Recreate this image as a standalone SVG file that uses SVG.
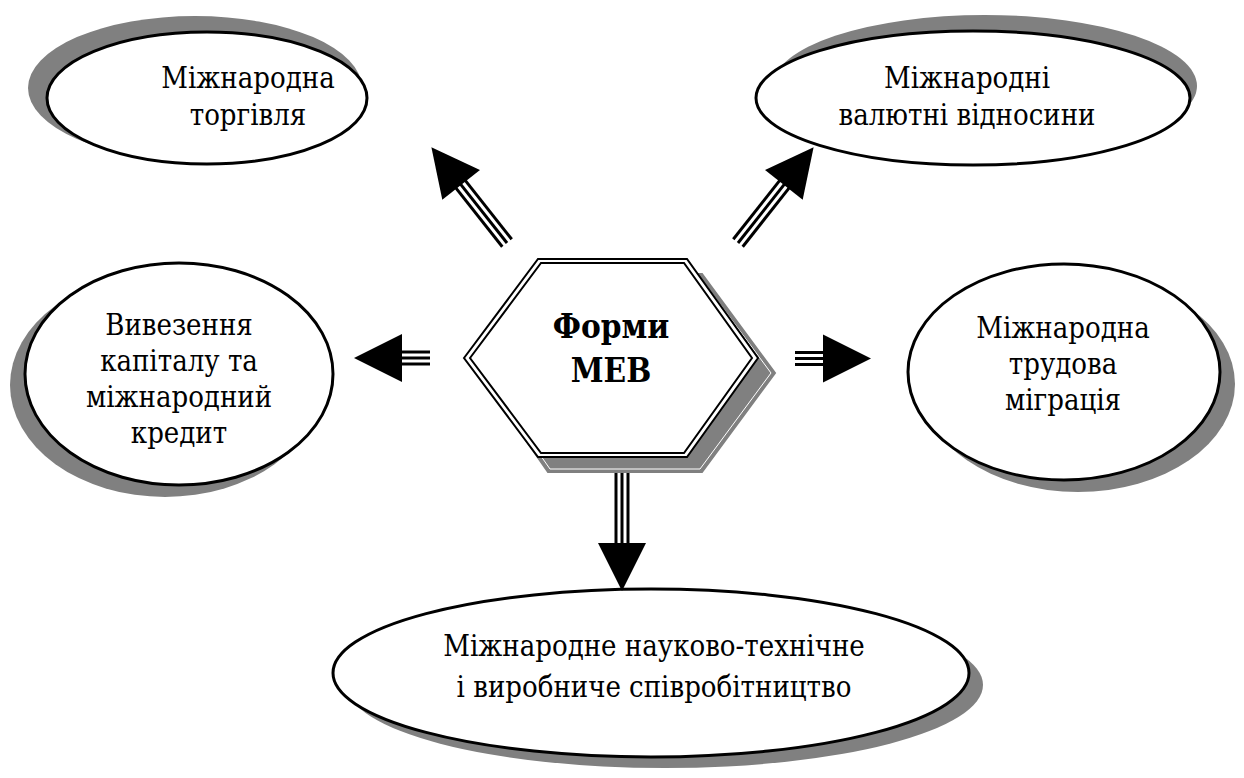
<svg xmlns="http://www.w3.org/2000/svg" width="1244" height="778" viewBox="0 0 1244 778">
<style>
.shadow{fill:#808080;stroke:none}
.ell{fill:#fff;stroke:#000;stroke-width:3}
.t{font-family:"DejaVu Serif Condensed","DejaVu Serif",serif;font-stretch:condensed;font-size:29px;fill:#000;text-anchor:middle}
.tb{font-family:"DejaVu Serif Condensed","DejaVu Serif",serif;font-stretch:condensed;font-size:33px;font-weight:bold;fill:#000;text-anchor:middle}
.sh{stroke:#000;stroke-width:3;fill:none}
.head{fill:#000}
</style>
<defs>
<polygon id="head" class="head" points="0,-24 0,24 48,0"/>
</defs>
<rect width="1244" height="778" fill="#fff"/>

<g id="node-trade">
<ellipse class="shadow" cx="195" cy="88" rx="167" ry="72"/>
<ellipse class="ell" cx="207" cy="98" rx="160" ry="66"/>
<text class="t" x="248" y="88">Міжнародна</text>
<text class="t" x="248" y="125">торгівля</text>
</g>

<g id="node-currency">
<ellipse class="shadow" cx="985" cy="86" rx="212" ry="71"/>
<ellipse class="ell" cx="973" cy="98" rx="217" ry="67"/>
<text class="t" x="967" y="88">Міжнародні</text>
<text class="t" x="967" y="125">валютні відносини</text>
</g>

<g id="node-capital">
<ellipse class="shadow" cx="165" cy="385" rx="155" ry="112"/>
<ellipse class="ell" cx="179" cy="374" rx="154" ry="111"/>
<text class="t" x="179" y="335">Вивезення</text>
<text class="t" x="179" y="371">капіталу та</text>
<text class="t" x="179" y="407">міжнародний</text>
<text class="t" x="179" y="443">кредит</text>
</g>

<g id="node-migration">
<ellipse class="shadow" cx="1078" cy="384" rx="157" ry="108"/>
<ellipse class="ell" cx="1064" cy="372" rx="156" ry="108"/>
<text class="t" x="1063" y="338">Міжнародна</text>
<text class="t" x="1063" y="374">трудова</text>
<text class="t" x="1063" y="410">міграція</text>
</g>

<g id="node-science">
<ellipse class="shadow" cx="665" cy="685" rx="318" ry="83"/>
<ellipse class="ell" cx="651" cy="673" rx="318" ry="84"/>
<text class="t" x="654" y="656">Міжнародне науково-технічне</text>
<text class="t" x="654" y="697">і виробниче співробітництво</text>
</g>

<g id="connectors">
<g transform="translate(430,358) rotate(180)">
<line class="sh" x1="0" y1="-6" x2="29" y2="-6"/><line class="sh" x1="0" y1="0" x2="29" y2="0"/><line class="sh" x1="0" y1="6" x2="29" y2="6"/>
<use href="#head" x="28"/>
</g>
<g transform="translate(795,358.5)">
<line class="sh" x1="0" y1="-6" x2="29" y2="-6"/><line class="sh" x1="0" y1="0" x2="29" y2="0"/><line class="sh" x1="0" y1="6" x2="29" y2="6"/>
<use href="#head" x="28"/>
</g>
<g transform="translate(622,473) rotate(90)">
<line class="sh" x1="0" y1="-6" x2="71" y2="-6"/><line class="sh" x1="0" y1="0" x2="71" y2="0"/><line class="sh" x1="0" y1="6" x2="71" y2="6"/>
<use href="#head" x="70"/>
</g>
<g transform="translate(507,243) rotate(231.7)">
<line class="sh" x1="0" y1="-6" x2="75" y2="-6"/><line class="sh" x1="0" y1="0" x2="75" y2="0"/><line class="sh" x1="0" y1="6" x2="75" y2="6"/>
<use href="#head" x="74"/>
</g>
<g transform="translate(738,243) rotate(-51.7)">
<line class="sh" x1="0" y1="-6" x2="75" y2="-6"/><line class="sh" x1="0" y1="0" x2="75" y2="0"/><line class="sh" x1="0" y1="6" x2="75" y2="6"/>
<use href="#head" x="74"/>
</g>
</g>

<g id="node-center">
<polygon points="479,373 553,274 702,274 775,373 702,472 548,472" fill="#808080" stroke="#808080" stroke-width="2"/>
<polygon points="483,373 555,277 700,277 771,373 700,469 550,469" fill="none" stroke="#fff" stroke-width="1"/>
<polygon points="464,358 538,259 687,259 758,358 687,457 538,457" fill="#fff" stroke="#000" stroke-width="2"/>
<polygon points="470,358 541,263 684,263 752,358 684,453 541,453" fill="none" stroke="#000" stroke-width="2"/>
<text class="tb" x="611" y="338">Форми</text>
<text class="tb" x="611" y="382">МЕВ</text>
</g>
</svg>
